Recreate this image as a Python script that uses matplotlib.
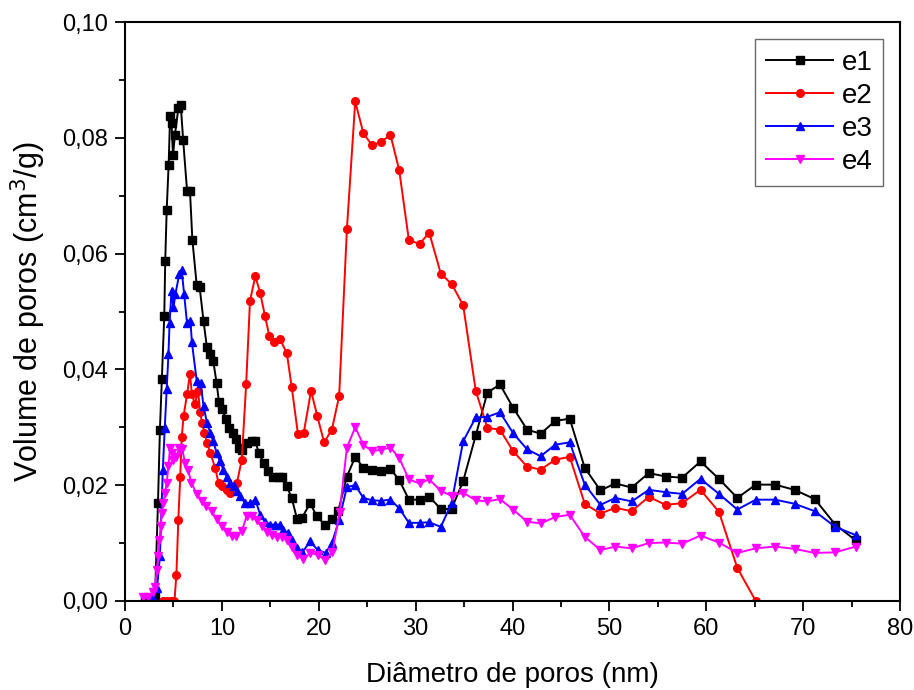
import matplotlib
matplotlib.use("Agg")
import matplotlib.pyplot as plt
from matplotlib.ticker import MultipleLocator, FuncFormatter

plt.rcParams['font.family'] = ['Liberation Sans', 'DejaVu Sans']

# Pore size distribution (BJH) for four samples
x_e1 = [2.1, 2.6, 3.1, 3.4, 3.6, 3.8, 4.05, 4.15, 4.3, 4.5, 4.65, 4.8, 4.95, 5.15, 5.5, 5.75,
        6.0, 6.4, 6.7, 6.95, 7.4, 7.7, 8.1, 8.45, 8.8, 9.1, 9.45, 9.7, 10.05, 10.4, 10.75,
        11.1, 11.45, 11.8, 12.1, 12.55, 13.1, 13.45, 13.8, 14.3, 14.8, 15.3, 15.85, 16.25,
        16.7, 17.2, 17.75, 18.25, 19.1, 19.8, 20.6, 21.35, 22.0, 22.9, 23.76, 24.6, 25.5,
        26.4, 27.4, 28.3, 29.3, 30.4, 31.4, 32.6, 33.7, 34.9, 36.2, 37.4, 38.7, 40.05, 41.5,
        42.9, 44.4, 45.9, 47.45, 49.07, 50.6, 52.3, 54.06, 55.8, 57.5, 59.4, 61.3, 63.2,
        65.1, 67.1, 69.1, 71.2, 73.3, 75.4]
y_e1 = [0.0, 0.0, 0.001, 0.0169, 0.0296, 0.0383, 0.0493, 0.0588, 0.0676, 0.0753, 0.0837,
        0.0825, 0.0770, 0.0805, 0.0851, 0.0857, 0.0796, 0.0709, 0.0709, 0.0624, 0.0545,
        0.0542, 0.0484, 0.0438, 0.0426, 0.0415, 0.0377, 0.0343, 0.0331, 0.0314, 0.0299,
        0.0291, 0.0279, 0.0265, 0.0261, 0.0273, 0.0276, 0.0276, 0.0256, 0.0239, 0.0224,
        0.0215, 0.0215, 0.0215, 0.0198, 0.0178, 0.0142, 0.0143, 0.0169, 0.0146, 0.0132,
        0.0141, 0.0155, 0.0215, 0.0249, 0.0230, 0.0226, 0.0225, 0.0228, 0.0209, 0.0175,
        0.0175, 0.0180, 0.0159, 0.0159, 0.0207, 0.0286, 0.0360, 0.0374, 0.0334, 0.0296,
        0.0289, 0.0311, 0.0315, 0.0230, 0.0191, 0.0203, 0.0196, 0.0221, 0.0215, 0.0213,
        0.0241, 0.0211, 0.0178, 0.0201, 0.0201, 0.0192, 0.0176, 0.0132, 0.0105]

x_e2 = [3.9, 4.3, 4.7, 5.1, 5.3, 5.5, 5.7, 5.85, 6.05, 6.4, 6.7, 6.9, 7.2, 7.55, 7.75, 7.95,
        8.2, 8.45, 8.8, 9.3, 9.65, 10.0, 10.5, 10.85, 11.55, 12.05, 12.5, 12.9, 13.45, 13.95,
        14.45, 14.9, 15.4, 16.0, 16.7, 17.2, 17.85, 18.45, 19.2, 19.85, 20.55, 21.35, 22.1,
        22.9, 23.76, 24.6, 25.5, 26.4, 27.4, 28.3, 29.3, 30.4, 31.4, 32.6, 33.7, 34.9, 36.2,
        37.4, 38.7, 40.05, 41.5, 42.9, 44.4, 45.9, 47.45, 49.07, 50.6, 52.3, 54.06, 55.8,
        57.5, 59.4, 61.3, 63.2, 65.1]
y_e2 = [0.0, 0.0, 0.0, 0.0, 0.0045, 0.0140, 0.0215, 0.0283, 0.0320, 0.0357, 0.0392, 0.0358,
        0.0340, 0.0362, 0.0326, 0.0308, 0.0290, 0.0273, 0.0256, 0.0230, 0.0204, 0.0198,
        0.0192, 0.0187, 0.0204, 0.0244, 0.0374, 0.0519, 0.0561, 0.0532, 0.0492, 0.0457,
        0.0447, 0.0452, 0.0428, 0.0370, 0.0288, 0.0291, 0.0363, 0.0319, 0.0274, 0.0296,
        0.0354, 0.0642, 0.0863, 0.0808, 0.0787, 0.0793, 0.0805, 0.0744, 0.0623, 0.0617,
        0.0636, 0.0565, 0.0548, 0.0511, 0.0363, 0.0299, 0.0296, 0.0259, 0.0232, 0.0227,
        0.0244, 0.0249, 0.0168, 0.0151, 0.0161, 0.0155, 0.0180, 0.0166, 0.0169, 0.0192,
        0.0154, 0.0057, 0.0]

x_e3 = [1.9, 2.4, 2.9, 3.3, 3.6, 3.9, 4.1, 4.3, 4.48, 4.6, 4.8, 5.0, 5.2, 5.6, 5.85, 6.1, 6.4,
        6.75, 6.9, 7.4, 7.8, 8.1, 8.45, 8.8, 9.1, 9.45, 9.8, 10.15, 10.5, 10.85, 11.2, 11.55,
        11.9, 12.4, 12.9, 13.45, 13.95, 14.45, 15.0, 15.5, 16.0, 16.35, 16.85, 17.2, 17.7,
        18.3, 19.1, 19.9, 20.7, 21.35, 22.1, 22.9, 23.76, 24.6, 25.5, 26.4, 27.4, 28.3, 29.3,
        30.4, 31.4, 32.6, 33.7, 34.9, 36.2, 37.4, 38.7, 40.05, 41.5, 42.9, 44.4, 45.9, 47.45,
        49.07, 50.6, 52.3, 54.06, 55.8, 57.5, 59.4, 61.3, 63.2, 65.1, 67.1, 69.1, 71.2, 73.3,
        75.4]
y_e3 = [0.0, 0.0, 0.0005, 0.0022, 0.0077, 0.0227, 0.0299, 0.0366, 0.0426, 0.0481, 0.0536,
        0.0507, 0.0530, 0.0565, 0.0571, 0.0530, 0.0480, 0.0484, 0.0447, 0.0380, 0.0377,
        0.0337, 0.0308, 0.0290, 0.0276, 0.0256, 0.0241, 0.0227, 0.0215, 0.0204, 0.0198,
        0.0190, 0.0181, 0.0169, 0.0169, 0.0175, 0.0149, 0.0137, 0.0132, 0.0132, 0.0132,
        0.0123, 0.0117, 0.0106, 0.0092, 0.0084, 0.0103, 0.0088, 0.0083, 0.0100, 0.0140,
        0.0197, 0.0200, 0.0178, 0.0174, 0.0173, 0.0175, 0.0160, 0.0135, 0.0135, 0.0136,
        0.0128, 0.0169, 0.0276, 0.0317, 0.0318, 0.0326, 0.0290, 0.0262, 0.0250, 0.0270,
        0.0274, 0.0201, 0.0166, 0.0178, 0.0172, 0.0192, 0.0188, 0.0185, 0.0211, 0.0185,
        0.0158, 0.0175, 0.0175, 0.0168, 0.0155, 0.0128, 0.0114]

x_e4 = [1.9, 2.4, 2.9, 3.1, 3.27, 3.44, 3.55, 3.69, 3.8, 3.96, 4.13, 4.3, 4.48, 4.65, 4.82, 5.0,
        5.3, 5.6, 5.9, 6.2, 6.5, 6.85, 7.4, 7.9, 8.4, 8.95, 9.45, 10.0, 10.5, 11.0, 11.5,
        12.05, 12.55, 13.1, 13.6, 14.1, 14.65, 15.15, 15.65, 16.2, 16.7, 17.2, 17.75, 18.35,
        19.1, 19.9, 20.6, 21.4, 22.15, 22.9, 23.76, 24.6, 25.5, 26.4, 27.4, 28.3, 29.3, 30.4,
        31.4, 32.6, 33.7, 34.9, 36.2, 37.4, 38.7, 40.05, 41.5, 42.9, 44.4, 45.9, 47.45, 49.07,
        50.6, 52.3, 54.06, 55.8, 57.5, 59.4, 61.3, 63.2, 65.1, 67.1, 69.1, 71.2, 73.3, 75.4]
y_e4 = [0.0007, 0.0007, 0.0015, 0.0025, 0.0054, 0.0077, 0.0106, 0.0129, 0.0152, 0.0169,
        0.0187, 0.0204, 0.0233, 0.0265, 0.0255, 0.0243, 0.0248, 0.0265, 0.0262, 0.0239,
        0.0227, 0.0204, 0.0185, 0.0172, 0.0164, 0.0155, 0.0141, 0.0130, 0.0120, 0.0112,
        0.0112, 0.0121, 0.0146, 0.0146, 0.0140, 0.0129, 0.0120, 0.0114, 0.0111, 0.0111,
        0.0106, 0.0094, 0.0080, 0.0072, 0.0083, 0.0080, 0.0071, 0.0084, 0.0153, 0.0265,
        0.0300, 0.0270, 0.0259, 0.0261, 0.0265, 0.0247, 0.0210, 0.0203, 0.0210, 0.0190,
        0.0182, 0.0187, 0.0174, 0.0172, 0.0176, 0.0158, 0.0137, 0.0134, 0.0145, 0.0149,
        0.0111, 0.0088, 0.0094, 0.0091, 0.0100, 0.0101, 0.0099, 0.0113, 0.0101, 0.0083,
        0.0091, 0.0094, 0.0090, 0.0083, 0.0084, 0.0094]

series = [
    ("e1", x_e1, y_e1, "black", "s"),
    ("e2", x_e2, y_e2, "red", "o"),
    ("e3", x_e3, y_e3, "blue", "^"),
    ("e4", x_e4, y_e4, "magenta", "v"),
]

fig = plt.figure(figsize=(9.14, 6.9), dpi=100)
ax = fig.add_axes([0.1368, 0.129, 0.848, 0.839])

for name, xs, ys, color, marker in series:
    ax.plot(xs, ys, color=color, marker=marker, markersize=5.5, linewidth=1.4, label=name)

ax.set_xlim(0, 80)
ax.set_ylim(0, 0.10)
ax.xaxis.set_major_locator(MultipleLocator(10))
ax.xaxis.set_minor_locator(MultipleLocator(5))
ax.yaxis.set_major_locator(MultipleLocator(0.02))
ax.yaxis.set_minor_locator(MultipleLocator(0.01))
ax.yaxis.set_major_formatter(FuncFormatter(lambda v, p: f"{v:.2f}".replace(".", ",")))
ax.xaxis.set_major_formatter(FuncFormatter(lambda v, p: f"{v:.0f}"))

ax.tick_params(which="both", direction="out", top=False, right=False, width=1.3, labelsize=17)
ax.tick_params(which="major", length=7, pad=5)
ax.tick_params(which="minor", length=4)
for sp in ax.spines.values():
    sp.set_linewidth(1.5)

ax.set_xlabel("Diâmetro de poros (nm)", fontsize=20, labelpad=16)
ax.set_ylabel("Volume de poros (cm$^3$/g)", fontsize=22, labelpad=10)

leg = ax.legend(loc="upper right", fontsize=20, frameon=True, fancybox=False,
                edgecolor="#444444", handlelength=2.4, borderaxespad=0.6,
                labelspacing=0.25, handletextpad=0.3, borderpad=0.4)
leg.get_frame().set_linewidth(1.0)

fig.savefig("out.png", dpi=100)
